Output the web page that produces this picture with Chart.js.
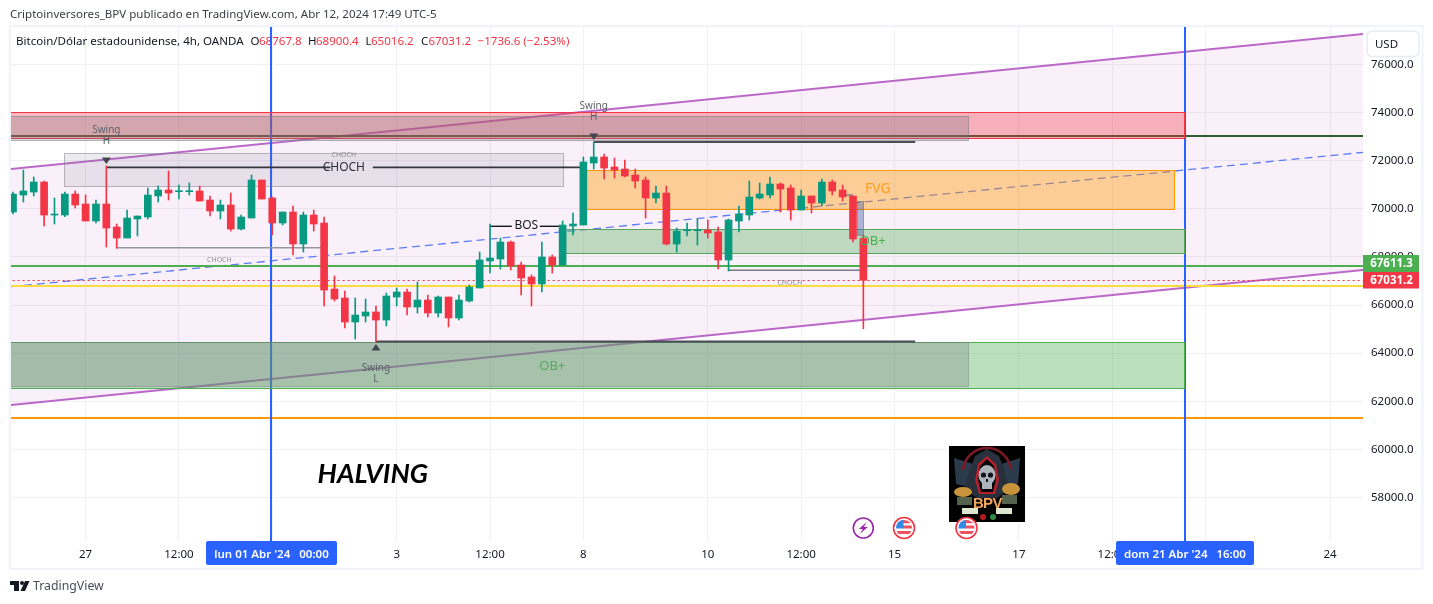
<!DOCTYPE html>
<html><head><meta charset="utf-8">
<style>html,body{margin:0;padding:0;background:#fff}canvas{display:block}</style>
<script src="https://cdn.jsdelivr.net/npm/chart.js@4"></script>
</head><body><canvas id="c" width="1433" height="604"></canvas>
<script>
const open_=[69868,70575,70699,71115,69743,69743,70616,70201,69494,70201,69245,68787,69577,69660,70533,70783,70713,70713,70741,70367,69910,70159,69161,69619,71198,70450,69411,69868,68538,69743,69411,66667,66293,65295,65545,65711,65378,66335,66542,65919,66210,65670,66335,65462,66168,66709,67831,67914,68621,67665,67166,66875,67998,67665,69286,69328,71905,72155,71739,71656,71406,71198,70450,70658,68538,69092,69092,69120,69037,67873,69494,69743,70450,70575,71032,70866,69951,70533,70242,71115,70783,70533,68767.8];
const high_=[70699,71614,71323,71157,70450,70699,70741,70575,70367,71780,69369,69951,69702,70866,70949,71572,70990,71074,70949,70533,70367,70658,69743,71406,71198,70492,69868,70117,69868,69951,69660,67208,66584,66293,66251,65960,66501,66709,66667,66958,66418,66376,66335,66418,66833,68205,69369,68787,68663,67790,67249,68621,68080,69494,69827,72155,72778,72279,72113,72030,71656,71323,70949,70949,69203,69411,69577,69536,69245,69577,70118,71157,71074,71323,71074,70990,70783,70533,71240,71198,70990,70533,68900.4];
const low_=[69785,70284,70533,69286,69369,69674,70034,69494,69411,68413,68357,68787,68870,69577,70284,70367,70408,70575,70325,69702,69577,69078,69120,69619,70408,68912,69328,68080,68205,69078,65960,66168,65046,64589,65295,64464,65129,65960,65586,65670,65503,65503,65088,65378,66127,66709,67332,67499,67457,66418,65960,66542,67332,67665,68912,69328,71656,71240,71282,71323,70866,69619,70242,68496,68205,68870,68496,68787,67499,67416,69037,69536,70409,70450,69868,69536,69951,69827,70118,70575,70325,68621,65016.2];
const close_=[70616,70741,71115,69743,69785,70616,70159,69494,70201,69203,68787,69619,69702,70575,70783,70658,70741,70741,70325,69910,70159,69161,69660,71198,70408,69411,69868,68538,69743,69369,66625,66251,65295,65586,65711,65378,66376,66542,65919,66210,65670,66335,65462,66210,66750,67873,67956,68621,67623,67125,66875,67998,67665,69328,69369,71947,72155,71697,71614,71365,71157,70450,70658,68538,69078,69120,69120,68995,67873,69536,69785,70492,70616,71032,70824,69951,70533,70242,71115,70741,70492,68746,67031.2];
const priceTicks=[58000,60000,62000,64000,66000,68000,70000,72000,74000,76000];
const timeTickIdx=[7,16,25,37,46,55,67,76,85,97,106,115,127];
const timeTickLabels=['27','12:00','','3','12:00','8','10','12:00','15','17','12:00','','24'];
const channelX=[-0.2,130.2];
const channelUpper=[71656,77268];
const channelLower=[61845,67457];
const channelMid=[66763,72350];
const GREEN='#089981',RED='#f23645';
const idx=open_.map((_,i)=>i);
const hLines=[[-1,131,67611.3,'#4caf50',2,[]],[-1,131,67031.2,'#f23645',1,[2,3]],[-1,131,66792,'#fbdc3a',2,[]],[-1,131,61305,'#ff9800',2,[]],[-1,131,73040,'#2e5f31',2,[]]];
const vLines=[24.85,113];
const zones=[
 [-1,113,74005,72924,'rgba(242,54,69,0.35)','#f23645'],
 [55.25,112.05,71614,69993,'rgba(255,152,0,0.40)','#ff9800'],
 [53.2,113,69141,68164,'rgba(76,175,80,0.35)','#5aa55e'],
 [-1,113,64443,62531,'rgba(76,175,80,0.38)','#4caf50'],
 [-1,92.1,73859,72841,'rgba(120,123,134,0.3)','rgba(120,123,134,0.55)'],
 [-1,92.1,64464,62614,'rgba(120,123,134,0.3)','rgba(120,123,134,0.45)'],
 [4.92,53.04,72321,70908,'rgba(120,123,134,0.14)','rgba(120,123,134,0.5)'],
 [81.4,82,70325,68912,'rgba(70,95,170,0.42)','rgba(100,110,140,0.6)']
];
const segs=[
 [9,30.6,71725,'#33363f',1.6],[34.7,55,71725,'#33363f',1.6],
 [10,30,68384,'#9598a1',1.5],
 [46,48.1,69274,'#131722',1.4],[50.8,52.7,69274,'#131722',1.4],
 [56,87,72778,'#4a4d56',2],[35,87,64485,'#4a4d56',2],
 [69,82,67444,'#787b86',1.4],[80.3,81,70575,'#787b86',1.4]
];
const notes=[
 [31.9,72238,'CHOCH','7px "Noto Sans"','#8a8d96'],[19.9,67873,'CHOCH','7px "Noto Sans"','#8a8d96'],[74.9,66917,'CHOCH','7px "Noto Sans"','#8a8d96'],
 [31.9,71698,'CHOCH','12px "Noto Sans"','#2a2e39'],[49.5,69286,'BOS','12px "Noto Sans"','#131722'],
 [83.4,70825,'FVG','14px "Noto Sans"','#ff9d1e'],[82.9,68663,'OB+','13px "Noto Sans"','#4caf50'],[52,63467,'OB+','13px "Noto Sans"','#55a85a'],
 [34.7,58945,'HALVING','italic 700 27px Lato','#000']
];
const swings=[[9,71780,-1,'H'],[56,72778,-1,'H'],[35,64464,1,'L']];

function line(ctx,x0,y0,x1,y1,col,w,dash){ctx.save();ctx.strokeStyle=col;ctx.lineWidth=w;ctx.setLineDash(dash||[]);ctx.beginPath();ctx.moveTo(x0,y0);ctx.lineTo(x1,y1);ctx.stroke();ctx.restore();}
function txt(ctx,s,x,y,font,col,al){ctx.font=font;ctx.fillStyle=col;ctx.textAlign=al||'left';ctx.textBaseline='middle';ctx.fillText(s,x,y);}
function rr(ctx,x,y,w,h,r){ctx.beginPath();ctx.roundRect(x,y,w,h,r);}
function crisp(v,w){return w%2?Math.round(v-0.5)+0.5:Math.round(v);}

function drawFlag(ctx,cx,cy){
 ctx.save();ctx.beginPath();ctx.arc(cx,cy,10.5,0,Math.PI*2);ctx.fillStyle='#fff';ctx.fill();
 ctx.lineWidth=1.6;ctx.strokeStyle='#f23645';ctx.stroke();
 ctx.beginPath();ctx.arc(cx,cy,8,0,Math.PI*2);ctx.clip();
 ctx.fillStyle='#fff';ctx.fillRect(cx-9,cy-9,18,18);
 ctx.fillStyle='#f0515f';ctx.fillRect(cx-9,cy-8,18,3.2);ctx.fillRect(cx-1,cy-2.5,10,3);ctx.fillRect(cx-9,cy+3,18,3);
 ctx.fillStyle='#2f8ae8';ctx.fillRect(cx-9,cy-9,8.5,9.5);
 ctx.restore();
}
function drawBolt(ctx,cx,cy){
 ctx.save();ctx.beginPath();ctx.arc(cx,cy,10,0,Math.PI*2);ctx.fillStyle='#fff';ctx.fill();ctx.lineWidth=1.6;ctx.strokeStyle='#9c27b0';ctx.stroke();
 ctx.fillStyle='#9c27b0';ctx.beginPath();ctx.moveTo(cx+3.5,cy-6);ctx.lineTo(cx-4.5,cy+1);ctx.lineTo(cx-0.5,cy+1);ctx.lineTo(cx-3.5,cy+6);ctx.lineTo(cx+4.5,cy-1);ctx.lineTo(cx+0.5,cy-1);ctx.closePath();ctx.fill();ctx.restore();
}
function drawLogo(ctx,x,y){
 ctx.save();ctx.fillStyle='#000';ctx.fillRect(x,y,76,76);
 const P=(c,pts)=>{ctx.fillStyle=c;ctx.beginPath();pts.forEach((p,i)=>i?ctx.lineTo(x+p[0],y+p[1]):ctx.moveTo(x+p[0],y+p[1]));ctx.closePath();ctx.fill();};
 P('#2b3a4c',[[5,12],[24,18],[24,42],[7,38]]);P('#2b3a4c',[[71,12],[52,18],[52,42],[69,38]]);
 ctx.strokeStyle='#7d1a26';ctx.lineWidth=2.5;ctx.beginPath();ctx.arc(x+38,y+26,24,Math.PI*1.03,Math.PI*1.97);ctx.stroke();
 P('#27303c',[[38,3],[50,10],[56,26],[60,44],[48,52],[28,52],[16,44],[20,26],[26,10]]);
 P('#b3202c',[[38,10],[47,18],[50,34],[46,48],[30,48],[26,34],[29,18]]);
 P('#05070a',[[38,13],[45,20],[47,34],[44,46],[32,46],[29,34],[31,20]]);
 ctx.fillStyle='#aeb4bb';ctx.beginPath();ctx.ellipse(x+38,y+29,8.5,10,0,0,Math.PI*2);ctx.fill();ctx.fillRect(x+33,y+36,10,7);
 ctx.fillStyle='#10151b';ctx.beginPath();ctx.arc(x+34.5,y+29,2.6,0,7);ctx.arc(x+41.5,y+29,2.6,0,7);ctx.fill();ctx.fillRect(x+37,y+33,2,3);
 ctx.fillStyle='#c9933c';ctx.beginPath();ctx.ellipse(x+14,y+46,9,5,0,0,7);ctx.ellipse(x+62,y+43,9,6,0,0,7);ctx.fill();
 ctx.fillStyle='#55634c';ctx.fillRect(x+8,y+51,15,8);ctx.fillRect(x+53,y+49,15,9);
 ctx.fillStyle='#dfe6cf';ctx.fillRect(x+13,y+62,16,6);ctx.fillRect(x+47,y+62,16,6);
 ctx.fillStyle='#b71c1c';ctx.beginPath();ctx.arc(x+34,y+71,3,0,7);ctx.fill();
 ctx.fillStyle='#2e8b47';ctx.beginPath();ctx.arc(x+44,y+71,3,0,7);ctx.fill();
 ctx.font='bold 15px "Liberation Sans"';ctx.textAlign='center';ctx.textBaseline='middle';ctx.fillStyle='#f2a65a';
 ctx.fillText('B',x+29.5,y+58);ctx.fillText('P',x+39,y+58);ctx.fillText('V',x+48.5,y+58);
 ctx.restore();
}

const overlay={id:'overlay',
 beforeDraw(chart){const c=chart.ctx;c.save();c.fillStyle='#fff';c.fillRect(0,0,1433,604);
  c.strokeStyle='#f0f3fa';c.lineWidth=2;c.strokeRect(10,26,1412.5,543);c.restore();},
 beforeDatasetsDraw(chart){const c=chart.ctx;c.save();
  txt(c,'Criptoinversores_BPV publicado en TradingView.com, Abr 12, 2024 17:49 UTC-5',10,15,'11.55px "Noto Sans"','#3a3d46');
  txt(c,'Bitcoin/Dólar estadounidense, 4h, OANDA',16,42,'11.55px "Noto Sans"','#131722');
  const f='11.55px "Noto Sans"',k='#131722',r='#f23645';
  [['O',250.5,k],['68767.8',259,r],['H',308,k],['68900.4',316,r],['L',365.5,k],['65016.2',371,r],['C',421,k],['67031.2',428.5,r],['−1736.6 (−2.53%)',477.6,r]].forEach(a=>txt(c,a[0],a[1],42,f,a[2]));
  c.restore();},
 afterDatasetDraw(chart,args){ if(args.index!==2)return;
  const c=chart.ctx,X=chart.scales.x,Y=chart.scales.y,a=chart.chartArea;
  c.save();c.beginPath();c.rect(a.left,a.top,a.right-a.left,a.bottom-a.top);c.clip();
  hLines.forEach(h=>{const y=crisp(Y.getPixelForValue(h[2]),h[4]);line(c,X.getPixelForValue(h[0]),y,X.getPixelForValue(h[1]),y,h[3],h[4],h[5]);});
  vLines.forEach(v=>{const x=crisp(X.getPixelForValue(v),2);line(c,x,a.top,x,a.bottom,'#2962ff',2);});
  zones.forEach(z=>{const x0=crisp(X.getPixelForValue(z[0]),1),x1=crisp(X.getPixelForValue(z[1]),1),y0=crisp(Y.getPixelForValue(z[2]),1),y1=crisp(Y.getPixelForValue(z[3]),1);
   c.fillStyle=z[4];c.fillRect(x0,y0,x1-x0,y1-y0);c.strokeStyle=z[5];c.lineWidth=1;c.strokeRect(x0,y0,x1-x0,y1-y0);});
  segs.forEach(s=>{const y=Y.getPixelForValue(s[2]);line(c,X.getPixelForValue(s[0]),y,X.getPixelForValue(s[1]),y,s[3],s[4]);});
  c.restore();},
 afterDatasetsDraw(chart){const c=chart.ctx,X=chart.scales.x,Y=chart.scales.y;c.save();
  notes.forEach(n=>txt(c,n[2],X.getPixelForValue(n[0]),Y.getPixelForValue(n[1]),n[3],n[4],'center'));
  swings.forEach(s=>{const x=X.getPixelForValue(s[0]),y=Y.getPixelForValue(s[1]),d=s[2];
   c.fillStyle='#434651';c.beginPath();c.moveTo(x-4.5,y+d*8.5);c.lineTo(x+4.5,y+d*8.5);c.lineTo(x,y+d*2);c.closePath();c.fill();
   const y1=d<0?y-36:y+26,y2=y1+11;
   txt(c,'Swing',x,y1,'10px "Noto Sans"','#5d606b','center');txt(c,s[3],x,y2,'10px "Noto Sans"','#5d606b','center');});
  c.restore();},
 afterDraw(chart){const c=chart.ctx;c.save();
  c.fillStyle='#fff';rr(c,1367,31,52,25.5,5);c.fill();c.strokeStyle='#e8eaf0';c.lineWidth=1.5;c.stroke();
  txt(c,'USD',1386.5,44.5,'11.5px "Noto Sans"','#131722','center');
  c.fillStyle='#4caf50';c.fillRect(1363,255,56,17);c.fillStyle='#f23645';c.fillRect(1363,272,56,16.5);
  txt(c,'67611.3',1391.5,263.7,'bold 11.5px "Noto Sans"','#fff','center');txt(c,'67031.2',1391.5,280.5,'bold 11.5px "Noto Sans"','#fff','center');
  c.fillStyle='#2962ff';rr(c,206,541,131,24,2);c.fill();rr(c,1116,541,138,24,2);c.fill();
  txt(c,"lun 01 Abr '24   00:00",271.5,555,'600 11.5px "Noto Sans"','#fff','center');
  txt(c,"dom 21 Abr '24   16:00",1185,555,'600 11.5px "Noto Sans"','#fff','center');
  drawLogo(c,949,446);drawBolt(c,863.3,528);drawFlag(c,904,528);drawFlag(c,966.5,528);
  c.fillStyle='#131722';c.fillRect(10,581,9,4);c.fillRect(14,581,5,10);
  c.beginPath();c.arc(22,583,2,0,7);c.fill();
  c.beginPath();c.moveTo(25,581);c.lineTo(29.5,581);c.lineTo(25,591);c.lineTo(20.5,591);c.closePath();c.fill();
  txt(c,'TradingView',33,586.5,'12.3px "Noto Sans"','#4a4d56');
  c.restore();}
};

new Chart(document.getElementById('c'),{
 type:'bar',
 data:{datasets:[
  {type:'line',data:channelX.map((x,i)=>({x,y:channelUpper[i]})),borderColor:'#ba68c8',borderWidth:2,pointRadius:0,fill:'+1',backgroundColor:'rgba(186,60,190,0.08)',order:10},
  {type:'line',data:channelX.map((x,i)=>({x,y:channelLower[i]})),borderColor:'#ba68c8',borderWidth:2,pointRadius:0,fill:false,order:9},
  {type:'line',data:channelX.map((x,i)=>({x,y:channelMid[i]})),borderColor:'#5b7cf5',borderWidth:1.3,borderDash:[8,5],pointRadius:0,fill:false,order:8},
  {label:'wick',data:idx.map(i=>({x:i,y:[low_[i],high_[i]]})),barThickness:1,grouped:false,borderWidth:0,
   backgroundColor:idx.map(i=>close_[i]>=open_[i]?GREEN:RED),order:2},
  {label:'body',data:idx.map(i=>({x:i,y:[Math.min(open_[i],close_[i]),Math.max(open_[i],close_[i])]})),barThickness:7,minBarLength:1,grouped:false,borderWidth:0,
   backgroundColor:idx.map(i=>close_[i]>=open_[i]?GREEN:RED),order:1}
 ]},
 options:{responsive:false,animation:false,events:[],
  layout:{padding:{left:11,top:27,right:10,bottom:35}},
  plugins:{legend:{display:false},tooltip:{enabled:false},title:{display:false}},
  scales:{
   x:{type:'linear',offset:false,min:-0.193,max:130.18,
    grid:{offset:false,color:'#eef0f4',drawTicks:false},border:{display:false},
    afterBuildTicks(s){s.ticks=timeTickIdx.map(v=>({value:v}));},
    afterFit(s){s.height=28;},
    ticks:{autoSkip:false,maxRotation:0,padding:7,font:{family:'Noto Sans',size:11.5},color:'#131722',
     callback(v){const k=timeTickIdx.indexOf(v);return k<0?'':timeTickLabels[k];}}},
   y:{position:'right',min:56192,max:77559,
    grid:{color:'#eef0f4',drawTicks:false},border:{display:false},
    afterBuildTicks(s){s.ticks=priceTicks.map(v=>({value:v}));},
    afterFit(s){s.width=60;},
    ticks:{padding:8,crossAlign:'near',font:{family:'Noto Sans',size:11.5},color:'#131722',callback:v=>v.toFixed(1)}}
  }},
 plugins:[overlay]
});
</script></body></html>
